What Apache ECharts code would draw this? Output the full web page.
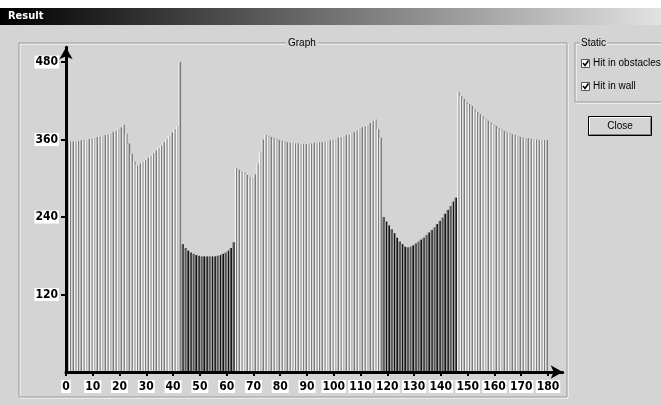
<!DOCTYPE html>
<html>
<head>
<meta charset="utf-8">
<script src="https://cdn.jsdelivr.net/npm/echarts@6/dist/echarts.min.js"></script>
<style>
  html, body { margin: 0; padding: 0; background: #fff; }
  #graph { width: 661px; height: 405px; }
</style>
</head>
<body>
<div id="graph"></div>
<script>
// distance per angle (deg 0..179)
const angles = Array.from({length: 180}, (_, i) => String(i));
const distSeg1 = [357, 357, 357, 357, 358, 359, 360, 360, 361, 362, 363, 364, 365, 366, 367, 369, 370, 372, 374, 377, 379, 383,
  369, 354, 338, 326, 320, 323, 326, 328, 332, 335, 339, 343, 347, 351, 356, 361, 366, 371, 376, 381, 482];
const distSeg2 = [198, 192, 188, 185, 183, 181, 180, 179, 179, 179, 179, 179, 179, 180, 181, 183, 185, 188, 192, 201];
const distSeg3 = [315, 313, 310, 309, 305, 302, 301, 306, 323, 340, 360, 367, 366, 364, 362, 361, 359, 358, 357, 356,
  355, 355, 354, 354, 353, 353, 353, 354, 354, 355, 355, 356, 356, 357, 358, 359, 360, 361, 363, 364,
  365, 367, 368, 370, 372, 374, 377, 379, 381, 383, 386, 389, 391, 376, 363];
const distSeg4 = [240, 233, 227, 221, 215, 208, 202, 198, 194, 193, 194, 196, 199, 202, 205, 208, 212, 216, 220, 224,
  229, 234, 239, 245, 251, 257, 264, 270];
const distSeg5 = [433, 427, 423, 418, 415, 412, 407, 403, 399, 396, 392, 389, 386, 383, 381, 378, 376, 373, 371, 370,
  368, 367, 365, 364, 363, 362, 362, 361, 360, 360, 359, 359, 359, 359];
// angle ranges that hit an obstacle (rest hit the wall)
const obstacleRanges = [[43, 62], [118, 145]];
const yTicks = [120, 240, 360, 480];
const xTicks = [0, 10, 20, 30, 40, 50, 60, 70, 80, 90, 100, 110, 120, 130, 140, 150, 160, 170, 180];

const distances = distSeg1.concat(distSeg2, distSeg3, distSeg4, distSeg5);
const isObstacle = i => obstacleRanges.some(r => i >= r[0] && i <= r[1]);
const wallData = distances.map((v, i) => isObstacle(i) ? '-' : v);
const obstacleData = distances.map((v, i) => isObstacle(i) ? v : '-');

const bg = '#d4d4d4';
const uiFont = '10px "Liberation Sans"';
const labelStyle = {
  color: '#000',
  fontFamily: 'DejaVu Sans Condensed',
  fontWeight: 'bold',
  fontSize: 12,
  backgroundColor: '#fff',
  padding: [1, 1, 0, 1],
  lineHeight: 12
};
function stripes(c1, c2, c3) {
  return new echarts.graphic.LinearGradient(0, 0, 1, 0, [
    {offset: 0, color: c1}, {offset: 0.34, color: c1},
    {offset: 0.34, color: c2}, {offset: 0.66, color: c2},
    {offset: 0.66, color: c3}, {offset: 1, color: c3}
  ]);
}

let chart = echarts.init(document.getElementById('graph'));
chart.setOption({
  animation: false,
  backgroundColor: bg,
  graphic: [
    {type: 'rect', z: -10, shape: {x: 0, y: 0, width: 661, height: 8}, style: {fill: '#fff'}},
    {type: 'rect', z: -10, shape: {x: 0, y: 8, width: 661, height: 17},
      style: {fill: new echarts.graphic.LinearGradient(0, 0, 1, 0, [
        {offset: 0, color: '#000'}, {offset: 1, color: '#e2e2e2'}])}},
    {type: 'text', z: -9, x: 8, y: 11, style: {text: 'Result', fill: '#fff', font: 'bold 11px "DejaVu Sans Condensed"'}},
    // Graph group box
    {type: 'rect', z: -10, shape: {x: 20, y: 44, width: 548, height: 354}, style: {fill: 'none', stroke: '#fff', lineWidth: 1}},
    {type: 'rect', z: -10, shape: {x: 19, y: 43, width: 548, height: 354}, style: {fill: 'none', stroke: '#9a9a9a', lineWidth: 1}},
    {type: 'text', z: -9, x: 286, y: 38, style: {text: 'Graph', fill: '#000', font: uiFont, backgroundColor: bg, padding: [0, 2]}},
    // Static group box
    {type: 'rect', z: -10, shape: {x: 576, y: 44, width: 100, height: 59}, style: {fill: 'none', stroke: '#fff', lineWidth: 1}},
    {type: 'rect', z: -10, shape: {x: 575, y: 43, width: 100, height: 59}, style: {fill: 'none', stroke: '#9a9a9a', lineWidth: 1}},
    {type: 'text', z: -9, x: 580, y: 38, style: {text: 'Static', fill: '#000', font: uiFont, backgroundColor: bg, padding: [0, 1]}},
    {type: 'rect', z: -9, shape: {x: 581.5, y: 59.5, width: 8, height: 8}, style: {fill: '#fff', stroke: '#555', lineWidth: 1}},
    {type: 'polyline', z: -8, shape: {points: [[583, 63], [585, 65.5], [588.5, 60.5]]}, style: {stroke: '#000', lineWidth: 1.6, fill: 'none'}},
    {type: 'text', z: -9, x: 593, y: 58, style: {text: 'Hit in obstacles', fill: '#000', font: uiFont}},
    {type: 'rect', z: -9, shape: {x: 581.5, y: 82.5, width: 8, height: 8}, style: {fill: '#fff', stroke: '#555', lineWidth: 1}},
    {type: 'polyline', z: -8, shape: {points: [[583, 86], [585, 88.5], [588.5, 83.5]]}, style: {stroke: '#000', lineWidth: 1.6, fill: 'none'}},
    {type: 'text', z: -9, x: 593, y: 81, style: {text: 'Hit in wall', fill: '#000', font: uiFont}},
    // Close button
    {type: 'rect', z: -9, shape: {x: 588.5, y: 116.5, width: 63, height: 19}, style: {fill: bg, stroke: '#000', lineWidth: 1}},
    {type: 'polyline', z: -8, shape: {points: [[589.5, 134], [589.5, 117.5], [650, 117.5]]}, style: {stroke: '#fff', lineWidth: 1, fill: 'none'}},
    {type: 'polyline', z: -8, shape: {points: [[590, 134.5], [650.5, 134.5], [650.5, 118]]}, style: {stroke: '#808080', lineWidth: 1, fill: 'none'}},
    {type: 'text', z: -8, x: 620, y: 126, style: {text: 'Close', fill: '#000', font: uiFont, align: 'center', verticalAlign: 'middle'}}
  ],
  grid: [
    {left: 66, right: 98.3, top: 47.2, bottom: 33},
    {left: 66, right: 113, top: 62, bottom: 33}
  ],
  xAxis: [
    {
      type: 'value', gridIndex: 0, min: 0, max: 185.5,
      axisLine: {show: true, lineStyle: {color: '#000', width: 3}, symbol: ['none', 'arrow'], symbolSize: [10, 12]},
      axisTick: {show: true, customValues: xTicks, length: 4, lineStyle: {color: '#000', width: 2}},
      axisLabel: Object.assign({customValues: xTicks, margin: 8}, labelStyle),
      splitLine: {show: false},
      z: 5
    },
    {type: 'category', gridIndex: 1, data: angles, boundaryGap: true, show: false}
  ],
  yAxis: [
    {
      type: 'value', gridIndex: 0, min: 0, max: 503,
      axisLine: {show: true, lineStyle: {color: '#000', width: 3}, symbol: ['none', 'arrow'], symbolSize: [10, 12]},
      axisTick: {show: true, customValues: yTicks, length: 5, lineStyle: {color: '#000', width: 2}},
      axisLabel: Object.assign({customValues: yTicks, margin: 7}, labelStyle),
      splitLine: {show: false},
      z: 5
    },
    {type: 'value', gridIndex: 1, min: 0, max: 480, show: false, splitLine: {show: false}}
  ],
  series: [
    {
      name: 'Hit in wall', type: 'bar', xAxisIndex: 1, yAxisIndex: 1,
      data: wallData, barWidth: '100%', barGap: '-100%',
      itemStyle: {color: stripes('#f2f2f2', '#b8b8b8', '#7c7c7c')}
    },
    {
      name: 'Hit in obstacles', type: 'bar', xAxisIndex: 1, yAxisIndex: 1,
      data: obstacleData, barWidth: '100%', barGap: '-100%',
      itemStyle: {color: stripes('#a0a0a0', '#5a5a5a', '#151515')}
    }
  ]
});
</script>
</body>
</html>
